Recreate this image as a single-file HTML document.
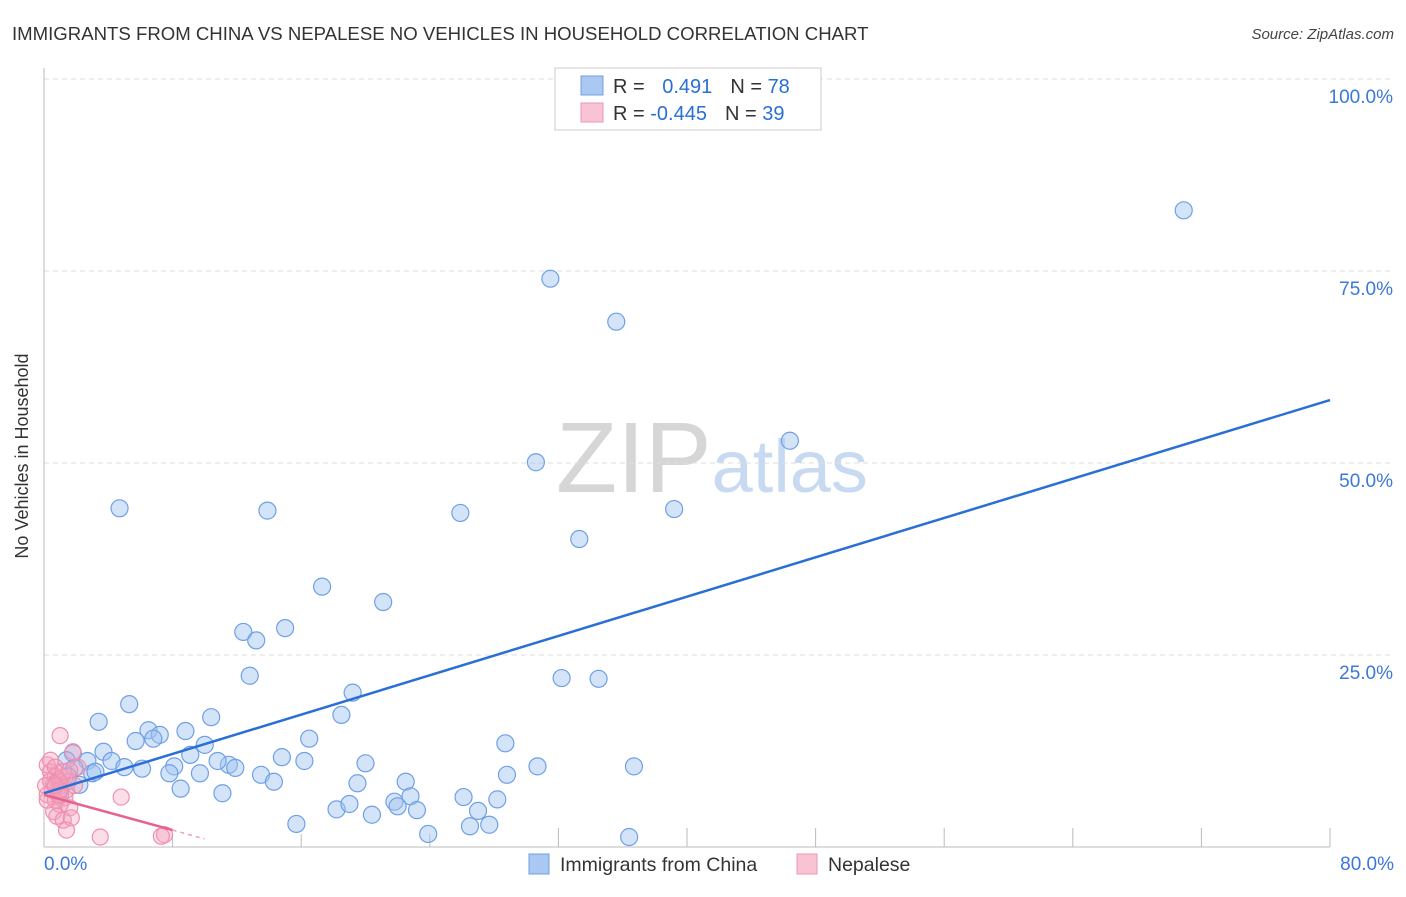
<!DOCTYPE html>
<html><head><meta charset="utf-8"><style>
body{margin:0;background:#fff;font-family:"Liberation Sans",sans-serif}
svg text{font-family:"Liberation Sans",sans-serif}
</style></head><body>
<svg id="c" width="1406" height="892">
<text x="12" y="40" font-size="18.6" fill="#333">IMMIGRANTS FROM CHINA VS NEPALESE NO VEHICLES IN HOUSEHOLD CORRELATION CHART</text>
<text x="1394" y="39" font-size="15" fill="#444" font-style="italic" text-anchor="end">Source: ZipAtlas.com</text>
<text x="28" y="456" font-size="18" fill="#333" text-anchor="middle" transform="rotate(-90 28 456)">No Vehicles in Household</text>
<text x="712" y="492" font-size="100" fill="#ddd" text-anchor="middle" font-family="Liberation Serif"><tspan fill="#d6d6d6">ZIP</tspan><tspan fill="#c8daf2" font-family="Liberation Sans" font-size="74">atlas</tspan></text>
<g id="grid"></g><g id="pts"></g><g id="lines"></g>
<g>
<rect x="555" y="68" width="266" height="62" fill="#fff" stroke="#ccc"/>
<rect x="581" y="76" width="22" height="19" fill="#a9c8f2" stroke="#6f9fe0"/>
<rect x="581" y="103" width="22" height="19" fill="#f8c3d3" stroke="#ef94b3"/>
<text x="613" y="93" font-size="20" fill="#333">R = <tspan fill="#2a6fd6" dx="12">0.491</tspan><tspan dx="18" fill="#333">N = </tspan><tspan fill="#2a6fd6">78</tspan></text>
<text x="613" y="120" font-size="20" fill="#333">R = <tspan fill="#2a6fd6">-0.445</tspan><tspan dx="18" fill="#333">N = </tspan><tspan fill="#2a6fd6">39</tspan></text>
</g>
<text x="44" y="870" font-size="19" fill="#3b78d8">0.0%</text>
<text x="1394" y="870" font-size="19" fill="#3b78d8" text-anchor="end">80.0%</text>
<g>
<rect x="529" y="854" width="20" height="20" fill="#a9c8f2" stroke="#6f9fe0"/>
<text x="560" y="871" font-size="19.5" fill="#333">Immigrants from China</text>
<rect x="797" y="854" width="20" height="20" fill="#f8c3d3" stroke="#ef94b3"/>
<text x="828" y="871" font-size="19.5" fill="#333">Nepalese</text>
</g>
</svg>
<script>
const yTicks=[25,50,75,100];
const xTicks=[8,16,24,32,40,48,56,64,72,80];
const chinaX=[4.7,13.9,31.5,35.6,70.9,30.6,46.4,25.9,39.2,33.3,17.3,21.1,12.4,13.2,15.0,12.8,19.2,32.2,34.5,5.3,3.4,10.4,18.5,6.5,8.8,7.2,5.7,6.8,10.0,16.5,28.7,3.7,1.8,9.1,14.8,4.2,5.0,2.7,1.4,16.2,20.0,11.5,10.8,11.9,8.1,6.1,7.8,9.7,3.0,13.5,30.7,36.7,28.8,19.5,22.5,8.5,14.3,11.1,26.1,28.2,18.2,19.0,21.8,22.8,22.0,23.2,27.0,20.4,15.7,26.5,27.7,23.9,36.4,2.2,3.2,1.9,1.5,1.0];
const chinaY=[44.1,43.8,74.0,68.4,82.9,50.1,52.9,43.5,44.0,40.1,33.9,31.9,28.0,26.9,28.5,22.3,20.1,22.0,21.9,18.6,16.3,16.9,17.2,15.2,15.1,14.6,13.8,14.1,13.3,14.1,13.5,12.4,12.2,12.0,11.7,11.2,10.4,11.2,11.3,11.2,10.9,10.7,11.2,10.3,10.5,10.2,9.6,9.6,9.6,9.4,10.5,10.5,9.4,8.3,8.5,7.6,8.5,7.0,6.5,6.2,4.9,5.6,5.9,6.6,5.3,4.8,4.7,4.2,3.0,2.7,2.9,1.7,1.3,8.1,9.8,10.3,9.2,6.8];
const nepX=[1.0,1.8,2.1,0.2,0.4,0.7,0.9,1.1,0.5,0.2,1.3,0.7,1.0,1.6,0.6,0.8,1.2,1.7,1.4,4.8,3.5,7.5,7.3,0.4,0.6,0.9,1.1,1.4,1.5,0.1,0.2,0.4,0.7,1.2,1.6,0.9,1.0,0.7,1.9];
const nepY=[14.5,12.4,10.4,10.7,9.8,9.2,8.6,8.0,7.4,6.8,6.4,6.1,5.5,5.1,4.6,4.0,3.5,3.8,2.2,6.5,1.3,1.6,1.4,8.6,8.2,8.8,9.1,7.4,8.5,8.0,6.1,11.3,10.4,9.8,10.0,6.8,7.4,8.0,8.0];
const blueFit=[[0,7.0],[80,58.2]];
const pinkFit=[[0,6.8],[8,2.2]];
const X=v=>44+v*16.075, Y=v=>847-v*7.68;
const NS='http://www.w3.org/2000/svg';
function mk(t,a,p){const e=document.createElementNS(NS,t);for(const k in a)e.setAttribute(k,a[k]);p.appendChild(e);return e;}
const g=document.getElementById('grid');
yTicks.forEach(v=>{
 const l=mk('line',{x1:44,x2:1394,y1:Y(v),y2:Y(v),stroke:'#ddd','stroke-dasharray':'5,4'},g);
 
 
 const t=mk('text',{x:1393,y:Y(v)+24,'font-size':19,fill:'#3b78d8','text-anchor':'end'},g);t.textContent=v.toFixed(1)+'%';
 
 
});
mk('line',{x1:44,x2:44,y1:68,y2:847,stroke:'#bbb'},g);
mk('line',{x1:44,x2:1330,y1:847,y2:847,stroke:'#bbb'},g);
xTicks.forEach(v=>{const l=mk('line',{x1:X(v),x2:X(v),y1:v<32?834:828,y2:847,stroke:'#bbb'},g);
 
 });
const p=document.getElementById('pts');
chinaX.forEach((v,i)=>{const c=mk('circle',{cx:X(v),cy:Y(chinaY[i]),r:8.5,fill:'rgba(160,196,240,0.45)',stroke:'#6fa0e6','stroke-width':1.2},p);
 
 });
nepX.forEach((v,i)=>{const c=mk('circle',{cx:X(v),cy:Y(nepY[i]),r:8,fill:'rgba(244,160,190,0.35)',stroke:'#f08fb0','stroke-width':1.2},p);
 
 });
const L=document.getElementById('lines');
const b=mk('line',{x1:X(blueFit[0][0]),y1:Y(blueFit[0][1]),x2:X(blueFit[1][0]),y2:Y(blueFit[1][1]),stroke:'#2a6fd6','stroke-width':2.5},L);


const pk=mk('line',{x1:X(pinkFit[0][0]),y1:Y(pinkFit[0][1]),x2:X(pinkFit[1][0]),y2:Y(pinkFit[1][1]),stroke:'#e8628f','stroke-width':2.5},L);


const slope=(pinkFit[1][1]-pinkFit[0][1])/(pinkFit[1][0]-pinkFit[0][0]);
const pd=mk('line',{x1:X(pinkFit[1][0]),y1:Y(pinkFit[1][1]),x2:X(10),y2:Y(pinkFit[0][1]+slope*10),stroke:'#f0a0bc','stroke-width':1.5,'stroke-dasharray':'4,4'},L);


</script>
</body></html>
